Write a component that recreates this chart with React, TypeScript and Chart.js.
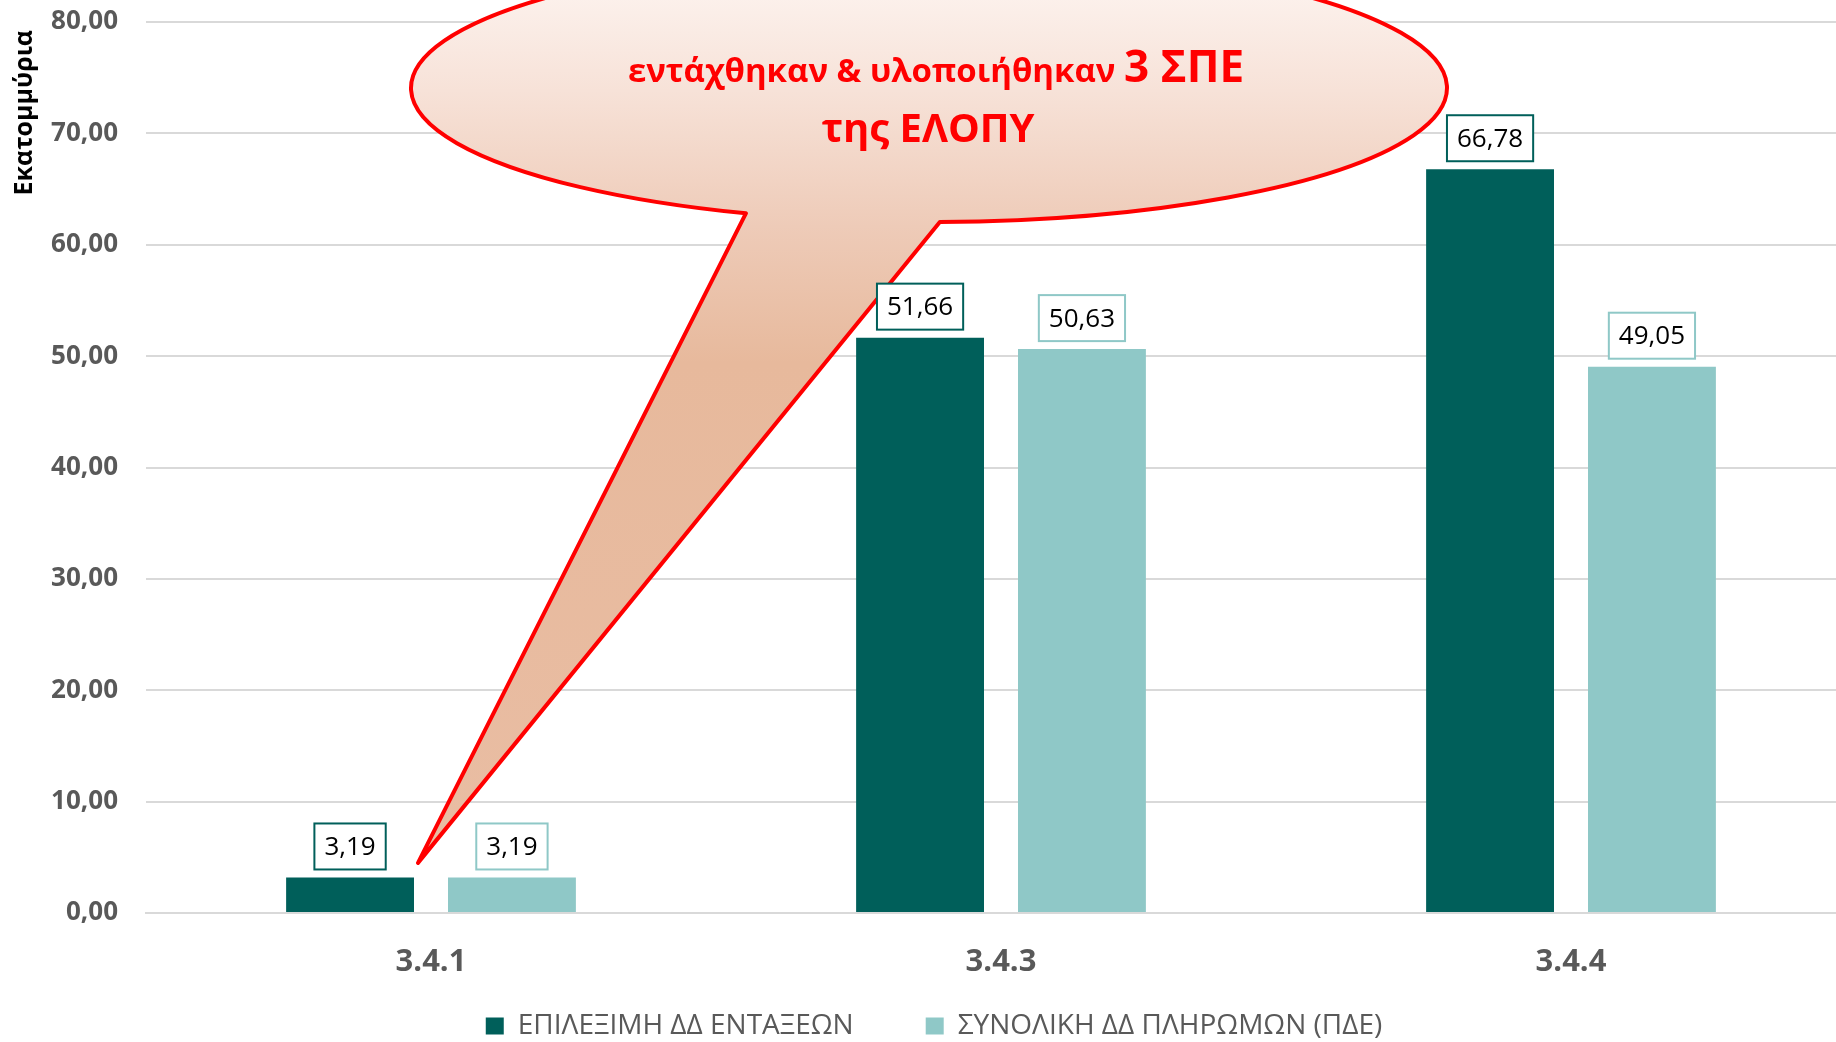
import React, { useEffect, useRef } from "react";
import { Chart, registerables } from "chart.js";

Chart.register(...registerables);

// ---- data ----
const CATEGORIES = ["3.4.1", "3.4.3", "3.4.4"];
const SERIES_NAMES = ["ΕΠΙΛΕΞΙΜΗ ΔΔ ΕΝΤΑΞΕΩΝ", "ΣΥΝΟΛΙΚΗ ΔΔ ΠΛΗΡΩΜΩΝ (ΠΔΕ)"];
const ELIGIBLE = [3.19, 51.66, 66.78];
const PAYMENTS = [3.19, 50.63, 49.05];
const Y_TICK_VALUES = [0, 10, 20, 30, 40, 50, 60, 70, 80];
const Y_TICK_LABELS = ["0,00", "10,00", "20,00", "30,00", "40,00", "50,00", "60,00", "70,00", "80,00"];
const Y_TITLE = "Εκατομμύρια";
const CALLOUT_LINE1_A = "εντάχθηκαν & υλοποιήθηκαν ";
const CALLOUT_LINE1_B = "3 ΣΠΕ";
const CALLOUT_LINE2 = "της ΕΛΟΠΥ";
const CALLOUT_TARGET_VALUE = 4.5;

const DARK = "#005F5A";
const LIGHT = "#8FC8C7";
const FONT = '"Open Sans", "Noto Sans", sans-serif';

const fmt = (v: number) => v.toFixed(2).replace(".", ",");

const overlayPlugin = {
  id: "overlay",
  afterDatasetsDraw(chart: any) {
    const ctx: CanvasRenderingContext2D = chart.ctx;
    const xs = chart.scales.x;
    const ys = chart.scales.y;

    // ---- callout ----
    const tipX = xs.getPixelForValue(0) - 13;
    const tipY = ys.getPixelForValue(CALLOUT_TARGET_VALUE);
    const cx = 929, cy = 88, rx = 518, ry = 134;
    const a1 = (110.7 * Math.PI) / 180;
    const a2 = ((88.8 + 360) * Math.PI) / 180;
    ctx.save();
    ctx.beginPath();
    ctx.ellipse(cx, cy, rx, ry, 0, a1, a2, false);
    ctx.lineTo(tipX, tipY);
    ctx.closePath();
    const g = ctx.createLinearGradient(0, cy - ry, 0, tipY);
    g.addColorStop(0, "#FEF7F4");
    g.addColorStop(0.15, "#F7E2D8");
    g.addColorStop(0.3, "#EECBB8");
    g.addColorStop(0.45, "#E7B99C");
    g.addColorStop(1, "#E9BDA3");
    ctx.fillStyle = g;
    ctx.fill();
    ctx.lineWidth = 4;
    ctx.strokeStyle = "#FF0000";
    ctx.lineJoin = "round";
    ctx.stroke();

    ctx.fillStyle = "#FF0000";
    ctx.textBaseline = "alphabetic";
    ctx.textAlign = "left";
    const fA = `bold 33px ${FONT}`;
    const fB = `bold 44px ${FONT}`;
    ctx.font = fA;
    const wA = ctx.measureText(CALLOUT_LINE1_A).width;
    ctx.font = fB;
    const wB = ctx.measureText(CALLOUT_LINE1_B).width;
    const startX = 936 - (wA + wB) / 2;
    ctx.font = fA;
    ctx.fillText(CALLOUT_LINE1_A, startX, 82);
    ctx.font = fB;
    ctx.fillText(CALLOUT_LINE1_B, startX + wA, 82);
    ctx.font = `bold 40px ${FONT}`;
    ctx.textAlign = "center";
    ctx.fillText(CALLOUT_LINE2, 928, 142);
    ctx.restore();

    // ---- data labels ----
    ctx.save();
    chart.data.datasets.forEach((ds: any, di: number) => {
      const meta = chart.getDatasetMeta(di);
      meta.data.forEach((bar: any, i: number) => {
        const text = fmt(ds.data[i]);
        ctx.font = `26px ${FONT}`;
        const tw = ctx.measureText(text).width;
        const w = tw + 20;
        const h = 46;
        const bx = bar.x - w / 2;
        const by = bar.y - 8 - h;
        ctx.fillStyle = "#FFFFFF";
        ctx.fillRect(bx, by, w, h);
        ctx.lineWidth = 2;
        ctx.strokeStyle = ds.backgroundColor;
        ctx.strokeRect(bx, by, w, h);
        ctx.fillStyle = "#000000";
        ctx.textAlign = "center";
        ctx.textBaseline = "middle";
        ctx.fillText(text, bar.x, by + h / 2 + 1);
      });
    });
    ctx.restore();

    // ---- y axis title ----
    ctx.save();
    ctx.translate(25, 30);
    ctx.rotate(-Math.PI / 2);
    ctx.font = `bold 25px ${FONT}`;
    ctx.fillStyle = "#000000";
    ctx.textAlign = "right";
    ctx.textBaseline = "middle";
    ctx.fillText(Y_TITLE, 0, 0);
    ctx.restore();
  },
};

export default function App() {
  const ref = useRef<HTMLCanvasElement | null>(null);

  useEffect(() => {
    if (!ref.current) return;
    const chart = new Chart(ref.current, {
      type: "bar",
      data: {
        labels: CATEGORIES,
        datasets: [
          {
            label: SERIES_NAMES[0],
            data: ELIGIBLE,
            backgroundColor: DARK,
            borderWidth: 0,
            categoryPercentage: 0.568,
            barPercentage: 0.79,
          },
          {
            label: SERIES_NAMES[1],
            data: PAYMENTS,
            backgroundColor: LIGHT,
            borderWidth: 0,
            categoryPercentage: 0.568,
            barPercentage: 0.79,
          },
        ],
      },
      options: {
        responsive: false,
        animation: false,
        layout: { padding: { top: 22, left: 12, right: 0, bottom: 0 } },
        plugins: {
          legend: {
            position: "bottom",
            labels: {
              color: "#595959",
              font: { family: FONT, size: 28 },
              boxWidth: 18,
              boxHeight: 17,
              padding: 72,
            },
          },
          tooltip: { enabled: false },
          title: { display: false },
        },
        scales: {
          x: {
            grid: { display: false, drawTicks: false },
            border: { display: true, color: "#D9D9D9", width: 2 },
            ticks: {
              color: "#595959",
              font: { family: FONT, size: 31, weight: "bold" },
              padding: 31,
            },
            afterFit: (s: any) => {
              s.height = 27;
              // let the category labels extend below this thin axis box
              s._computeLabelArea = () => undefined;
            },
          },
          y: {
            min: 0,
            max: 80,
            afterBuildTicks: (s: any) => {
              s.ticks = Y_TICK_VALUES.map((v) => ({ value: v }));
            },
            grid: {
              color: "#D9D9D9",
              lineWidth: 2,
              drawTicks: true,
              tickLength: 28,
              tickColor: "rgba(0,0,0,0)",
            },
            border: { display: false },
            ticks: {
              color: "#595959",
              font: { family: FONT, size: 26, weight: "bold" },
              padding: 0,
              callback: (v: any) => {
                const idx = Y_TICK_VALUES.indexOf(Number(v));
                return idx >= 0 ? Y_TICK_LABELS[idx] : fmt(Number(v));
              },
            },
            afterFit: (s: any) => {
              s.width = 134;
            },
          },
        },
      },
      plugins: [overlayPlugin],
    });
    return () => chart.destroy();
  }, []);

  return (
    <div
      style={{
        position: "fixed",
        left: 0,
        top: 0,
        width: 1836,
        height: 1042,
        overflow: "hidden",
        background: "#FFFFFF",
      }}
    >
      <canvas ref={ref} width={1856} height={1050} style={{ display: "block" }} />
    </div>
  );
}
